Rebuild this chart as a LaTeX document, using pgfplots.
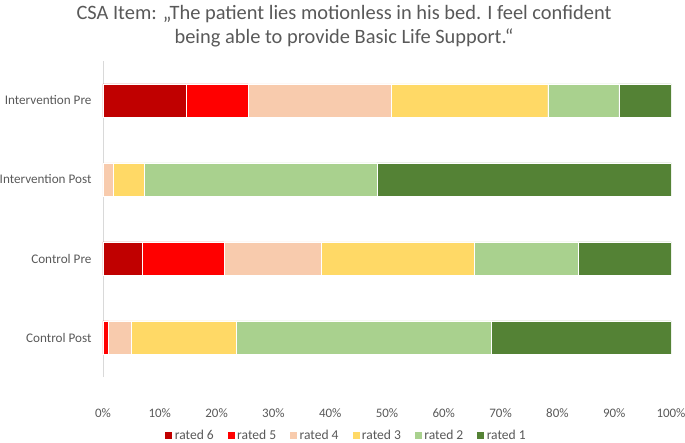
\documentclass[border=0pt]{standalone}
\usepackage{fontspec}
\setmainfont{Carlito}
\usepackage{pgfplots}
\pgfplotsset{compat=1.18}
\definecolor{r6}{HTML}{C00000}
\definecolor{r5}{HTML}{FF0000}
\definecolor{r4}{HTML}{F8CBAD}
\definecolor{r3}{HTML}{FFD966}
\definecolor{r2}{HTML}{A9D18E}
\definecolor{r1}{HTML}{548235}
\definecolor{txt}{HTML}{595959}
\begin{document}
\begin{tikzpicture}
\useasboundingbox (-103bp,-66bp) rectangle (582bp,377bp);
\begin{axis}[
  name=ax,
  scale only axis,
  width=568bp, height=316bp,
  xbar stacked,
  bar width=0.42,
  xmin=0, xmax=100,
  ymin=-0.5, ymax=3.5,
  xtick={0,10,...,100},
  xticklabel={\pgfmathprintnumber{\tick}\%},
  ytick={0,1,2,3},
  yticklabels={Control Post, Control Pre, Intervention Post, Intervention Pre},
  /pgf/number format/assume math mode=true,
  tick style={draw=none},
  axis lines*=left,
  axis line style={-},
  x axis line style={draw=none},
  y axis line style={draw=black!15, line width=0.8bp},
  x tick label style={anchor=base, yshift=-40bp, font=\fontsize{13}{15}\selectfont, text=txt},
  y tick label style={xshift=-8bp, font=\fontsize{13.2}{15}\selectfont, text=txt},
  every axis plot/.append style={draw=white, line width=0.4bp},
  legend columns=6,
  legend style={draw=none, at={(axis description cs:0.428,-0.184)}, anchor=center,
    font=\fontsize{13.6}{15}\selectfont, text=txt, inner sep=0pt,
    nodes={inner ysep=0.5bp},
    /tikz/every even column/.append style={column sep=11bp}},
  legend image code/.code={\fill[#1] (0bp,-4bp) rectangle (8bp,4bp);},
]
\addplot[fill=r6] coordinates {(14.6,3) (0,2) (6.9,1) (0,0)};
\addplot[fill=r5] coordinates {(10.9,3) (0,2) (14.4,1) (1.0,0)};
\addplot[fill=r4] coordinates {(25.2,3) (1.8,2) (17.2,1) (3.9,0)};
\addplot[fill=r3] coordinates {(27.6,3) (5.4,2) (26.9,1) (18.6,0)};
\addplot[fill=r2] coordinates {(12.5,3) (41.0,2) (18.2,1) (44.9,0)};
\addplot[fill=r1] coordinates {(9.2,3) (51.8,2) (16.4,1) (31.6,0)};
\legend{rated 6, rated 5, rated 4, rated 3, rated 2, rated 1}
\end{axis}
\node[align=center, text=txt, font=\fontsize{20.5}{23.5}\selectfont] at (241bp,351bp)
  {CSA Item: „The patient lies motionless in his bed. I feel confident\\being able to provide Basic Life Support.“};
\end{tikzpicture}
\end{document}
